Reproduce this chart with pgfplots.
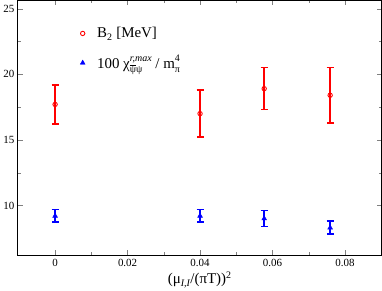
\documentclass[border=0pt]{standalone}
\usepackage{pgfplots}
\pgfplotsset{compat=1.18}
\usepackage{fontspec}
\setmainfont{Liberation Serif}
\newcommand\supsub[2]{%
  \setbox0=\hbox{\fontsize{10}{11}\selectfont #1}%
  \setbox2=\hbox{\fontsize{10}{11}\selectfont #2}%
  \ifdim\wd0>\wd2 \dimen0=\wd0 \else \dimen0=\wd2 \fi
  \rlap{\raise7bp\box0}\rlap{\lower4bp\box2}\hspace{\dimen0}}
\begin{document}
\begin{tikzpicture}
\begin{axis}[
  scale only axis,
  width=364bp, height=255bp,
  xmin=-0.0103, xmax=0.0901,
  ymin=6.2, ymax=25.63,
  xtick={0,0.02,0.04,0.06,0.08},
  ytick={10,15,20,25},
  minor x tick num=1,
  minor y tick num=1,
  tick align=inside,
  major tick length=5bp,
  minor tick length=3bp,
  axis line style={line width=0.8pt},
  ticklabel style={font=\fontsize{11}{12}\selectfont},
  /pgf/number format/assume math mode=true,
  scaled x ticks=false,
  x tick label style={/pgf/number format/fixed, /pgf/number format/precision=2},
  xlabel={(μ$_{\mbox{\fontsize{10}{11}\selectfont\itshape I,I}}$/(πT))$^{\mbox{\fontsize{10}{11}\selectfont 2}}$},
  xlabel style={font=\fontsize{15}{16}\selectfont, yshift=1bp},
  legend style={draw=none, fill=none, at={(0.163,0.91)}, anchor=north west,
    font=\fontsize{15}{16}\selectfont, row sep=12bp,
    /tikz/every odd column/.append style={column sep=10bp}},
  legend cell align=left,
]
\addplot[red, only marks, mark=o, mark size=2.2bp, line width=0.9pt,
  error bars/.cd, y dir=both, y explicit,
  error bar style={red, line width=1.6pt},
  error mark options={rotate=90, red, mark size=3.5bp, line width=1.6pt}]
  coordinates {
  (0,17.7) +- (0,1.5)
  (0.04,17.0) +- (0,1.8)
  (0.0577,18.9) +- (0,1.6)
  (0.0759,18.4) +- (0,2.1)
};
\addlegendentry{B$_{\mbox{\fontsize{10}{11}\selectfont 2}}$ [MeV]}
\addplot[blue, only marks, mark=triangle*, mark size=2.8bp,
  error bars/.cd, y dir=both, y explicit,
  error bar style={blue, line width=1.6pt},
  error mark options={rotate=90, blue, mark size=3.5bp, line width=1.6pt}]
  coordinates {
  (0,9.2) +- (0,0.48)
  (0.04,9.2) +- (0,0.48)
  (0.0577,9.0) +- (0,0.6)
  (0.0759,8.3) +- (0,0.5)
};
\addlegendentry{100 χ\supsub{\itshape r,max}{$\overline{\mbox{ψ}}$ψ} / m\supsub{4}{π}}
\end{axis}
\end{tikzpicture}
\end{document}
